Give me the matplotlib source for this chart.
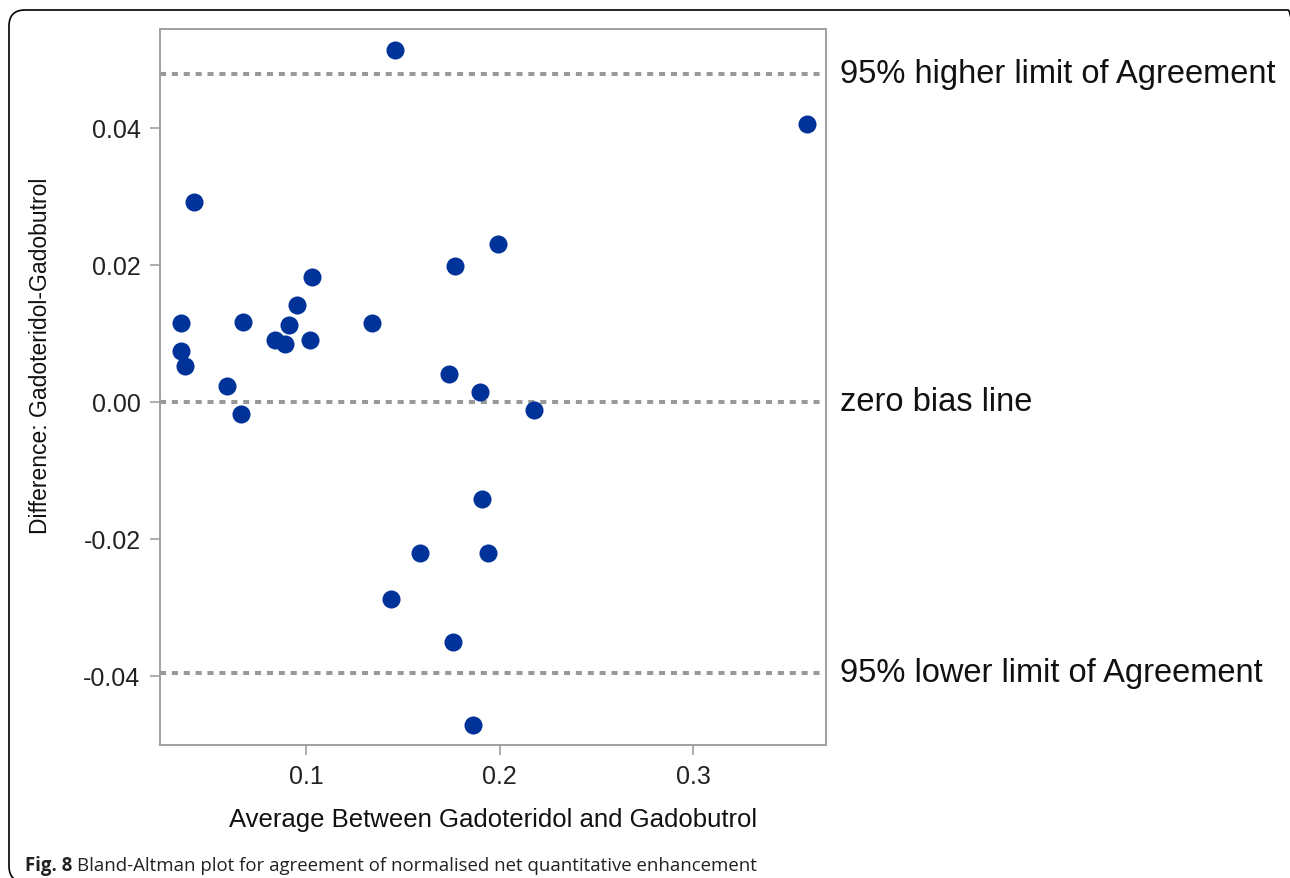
import matplotlib
matplotlib.use('Agg')
import matplotlib.pyplot as plt
from matplotlib.patches import FancyBboxPatch
from matplotlib.transforms import IdentityTransform

# values
avg_vals = [0.146, 0.359, 0.042, 0.199, 0.177, 0.103, 0.095, 0.035, 0.067,
            0.091, 0.134, 0.084, 0.089, 0.102, 0.035, 0.037, 0.059, 0.174,
            0.190, 0.066, 0.218, 0.191, 0.159, 0.194, 0.144, 0.176, 0.186]
diff_vals = [0.0514, 0.0405, 0.0292, 0.0231, 0.0198, 0.0183, 0.0142, 0.0115, 0.0117,
             0.0112, 0.0115, 0.0091, 0.0085, 0.0091, 0.0074, 0.0052, 0.0023, 0.0041,
             0.0015, -0.0018, -0.0012, -0.0141, -0.0221, -0.0221, -0.0287, -0.0350, -0.0472]

limit_vals = [0.0479, 0.0, -0.0395]
limit_labels = ['95% higher limit of Agreement', 'zero bias line', '95% lower limit of Agreement']

x_ticks = [0.1, 0.2, 0.3]
y_ticks = [-0.04, -0.02, 0.00, 0.02, 0.04]
y_ticklabels = ['-0.04', '-0.02', '0.00', '0.02', '0.04']

plt.rcParams['font.family'] = ['Liberation Sans', 'DejaVu Sans']

W, H = 1290, 879
fig = plt.figure(figsize=(W / 100, H / 100), dpi=100)
fig.patch.set_facecolor('white')

ax = fig.add_axes([160 / W, 1 - 745.5 / H, 666 / W, 716 / H])

for v, lab in zip(limit_vals, limit_labels):
    ax.axhline(v, color='#999999', lw=2.9, linestyle=(0, (1.5, 1.45)), zorder=1)
    ax.text(1.021, v, lab, transform=ax.get_yaxis_transform(), fontsize=23.5,
            va='center', ha='left', color='#111111')

ax.plot(avg_vals, diff_vals, 'o', color='#003399', markersize=13, mec='none', zorder=3)

ax.set_xlim(0.0243, 0.3688)
ax.set_ylim(-0.0500, 0.0545)
ax.set_xticks(x_ticks)
ax.set_xticklabels([str(t) for t in x_ticks])
ax.set_yticks(y_ticks)
ax.set_yticklabels(y_ticklabels)

for s in ax.spines.values():
    s.set_color('#a0a0a0')
    s.set_linewidth(1.4)
ax.tick_params(direction='out', length=7, width=1.1, color='#999999',
               labelsize=18, labelcolor='#222222', pad=7)

ax.set_xlabel('Average Between Gadoteridol and Gadobutrol', fontsize=18.5,
              color='#111111', va='center')
ax.xaxis.set_label_coords(0.5, -0.104)
ax.set_ylabel('Difference: Gadoteridol-Gadobutrol', fontsize=16.5,
              color='#111111', va='center')
ax.yaxis.set_label_coords(-0.18, 0.544)

# caption below the plot
cap1 = fig.text(25 / W, 1 - 866 / H, 'Fig. 8', fontsize=13.4, weight='bold',
                family='Open Sans', va='center', ha='left', color='#222222')
fig.canvas.draw()
bb = cap1.get_window_extent()
fig.text((bb.x1 + 5) / W, 1 - 866 / H,
         'Bland-Altman plot for agreement of normalised net quantitative enhancement',
         fontsize=13.4, family='Open Sans', va='center', ha='left', color='#222222')

# rounded frame round the whole figure, right and bottom edges fall outside
frame = FancyBboxPatch((9, -4), 1295, H - 11 + 4, boxstyle='round,pad=0,rounding_size=16',
                       transform=IdentityTransform(), fill=False, ec='black', lw=1.2)
fig.patches.append(frame)

fig.savefig('out.png', dpi=100)
